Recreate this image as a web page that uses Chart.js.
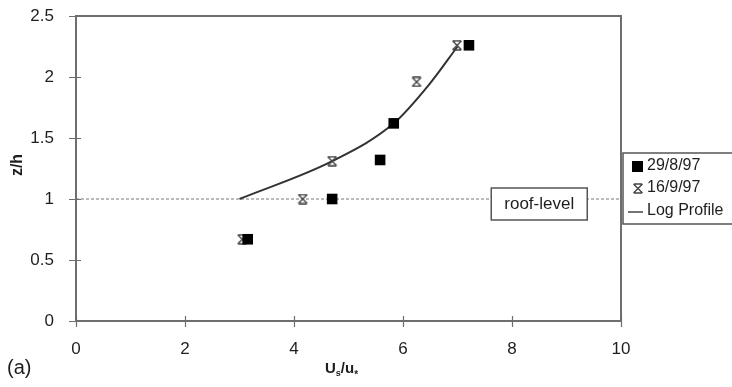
<!DOCTYPE html>
<html>
<head>
<meta charset="utf-8">
<script src="https://cdn.jsdelivr.net/npm/chart.js@4/dist/chart.umd.min.js"></script>
<style>
  html, body { margin: 0; padding: 0; background: #fff; }
  #wrap { width: 732px; height: 387px; }
</style>
</head>
<body>
<div id="wrap"><canvas id="profile-chart"></canvas></div>
<script>
// measured speed ratio Us/u* against z/h
const aug29X = [3.15, 4.7, 5.58, 5.83, 7.21];
const aug29Y = [0.67, 1.0, 1.32, 1.62, 2.26];
const sep16X = [3.05, 4.16, 4.7, 6.25, 6.99];
const sep16Y = [0.67, 1.0, 1.31, 1.96, 2.26];
const logX = [3.0, 4.7, 5.83, 6.5, 7.0];
const logY = [1.0, 1.31, 1.62, 1.95, 2.25];
const roofX = [0, 10];
const roofY = [1, 1];
const seriesLabels = ['29/8/97', '16/9/97', 'Log Profile'];
const xTicks = [0, 2, 4, 6, 8, 10];
const yTicks = [0, 0.5, 1, 1.5, 2, 2.5];

const FONT = '"Liberation Sans", Arial, sans-serif';
const AXIS = '#6e6e6e';
const INK = '#1e1e1e';

const pts = (xs, ys) => xs.map((x, i) => ({ x, y: ys[i] }));

// asterisk-like marker: an X closed by short bars top and bottom
function starMarker(w, h, color) {
  const c = document.createElement('canvas');
  c.width = w; c.height = h;
  const g = c.getContext('2d');
  g.strokeStyle = color;
  g.lineWidth = 1.4;
  g.beginPath();
  g.moveTo(1.5, 1); g.lineTo(w - 1.5, h - 1);
  g.moveTo(w - 1.5, 1); g.lineTo(1.5, h - 1);
  g.moveTo(2, 1); g.lineTo(w - 2, 1);
  g.moveTo(2, h - 1); g.lineTo(w - 2, h - 1);
  g.stroke();
  return c;
}
const star = starMarker(12, 11, '#444');

const decorations = {
  id: 'decorations',
  afterDraw(chart) {
    const { ctx, chartArea: a, scales: { x, y } } = chart;
    ctx.save();

    // top and right frame
    ctx.strokeStyle = AXIS;
    ctx.lineWidth = 2;
    ctx.beginPath();
    ctx.moveTo(a.left, a.top); ctx.lineTo(a.right, a.top); ctx.lineTo(a.right, a.bottom);
    ctx.stroke();

    // ticks crossing the axes
    ctx.lineWidth = 1.2;
    ctx.beginPath();
    yTicks.forEach(v => {
      const py = Math.round(y.getPixelForValue(v)) + 0.5;
      ctx.moveTo(a.left - 7, py); ctx.lineTo(a.left + 5, py);
    });
    xTicks.forEach(v => {
      const px = Math.round(x.getPixelForValue(v)) + 0.5;
      ctx.moveTo(px, a.bottom - 5); ctx.lineTo(px, a.bottom + 6);
    });
    ctx.stroke();

    // roof-level label box
    const bx = x.getPixelForValue(8.5), by = y.getPixelForValue(1);
    ctx.fillStyle = '#fff';
    ctx.fillRect(bx - 48, by - 11, 96, 32);
    ctx.strokeStyle = '#555';
    ctx.lineWidth = 1.5;
    ctx.strokeRect(bx - 48, by - 11, 96, 32);
    ctx.fillStyle = INK;
    ctx.font = '17px ' + FONT;
    ctx.textAlign = 'center';
    ctx.textBaseline = 'middle';
    ctx.fillText('roof-level', bx, by + 5);

    // legend
    const lx = a.right + 2, ly = 153;
    ctx.fillStyle = '#fff';
    ctx.fillRect(lx, ly, 120, 71);
    ctx.strokeStyle = '#555';
    ctx.lineWidth = 1.5;
    ctx.strokeRect(lx, ly, 120, 71);
    const rows = [166, 188, 211];
    ctx.fillStyle = '#000';
    ctx.fillRect(lx + 9, rows[0] - 5, 11, 11);
    ctx.drawImage(star, lx + 9, rows[1] - 5);
    ctx.strokeStyle = '#444';
    ctx.lineWidth = 1.5;
    ctx.beginPath();
    ctx.moveTo(lx + 5, rows[2] + 1); ctx.lineTo(lx + 20, rows[2] + 1);
    ctx.stroke();
    ctx.fillStyle = INK;
    ctx.font = '16px ' + FONT;
    ctx.textAlign = 'left';
    seriesLabels.forEach((t, i) => ctx.fillText(t, lx + 24, rows[i]));

    // axis titles
    ctx.save();
    ctx.translate(18, 165);
    ctx.rotate(-Math.PI / 2);
    ctx.font = 'bold 16px ' + FONT;
    ctx.textAlign = 'center';
    ctx.fillText('z/h', 0, 0);
    ctx.restore();

    let tx = 325;
    const ty = 369;
    const part = (t, f, dy) => {
      ctx.font = f;
      ctx.fillText(t, tx, ty + dy);
      tx += ctx.measureText(t).width;
    };
    part('U', 'bold 15px ' + FONT, 0);
    part('s', 'bold 9px ' + FONT, 5);
    part('/u', 'bold 15px ' + FONT, 0);
    part('*', 'bold 10px ' + FONT, 6);

    ctx.font = '20px ' + FONT;
    ctx.fillText('(a)', 7, 368);
    ctx.restore();
  }
};

new Chart(document.getElementById('profile-chart'), {
  type: 'scatter',
  data: {
    datasets: [
      {
        label: 'roof',
        data: pts(roofX, roofY),
        showLine: true,
        borderColor: '#777',
        borderWidth: 1,
        borderDash: [3, 2],
        pointRadius: 0,
        order: 4,
      },
      {
        label: seriesLabels[2],
        data: pts(logX, logY),
        showLine: true,
        cubicInterpolationMode: 'monotone',
        borderColor: '#333',
        borderWidth: 2,
        pointRadius: 0,
        order: 3,
      },
      {
        label: seriesLabels[1],
        data: pts(sep16X, sep16Y),
        pointStyle: star,
        order: 2,
      },
      {
        label: seriesLabels[0],
        data: pts(aug29X, aug29Y),
        pointStyle: 'rect',
        pointRadius: 7.5,
        backgroundColor: '#000',
        borderColor: '#000',
        borderWidth: 0,
        order: 1,
      },
    ],
  },
  options: {
    responsive: true,
    maintainAspectRatio: false,
    animation: false,
    layout: { padding: { top: 16, right: 111, left: 0, bottom: 0 } },
    plugins: { legend: { display: false }, tooltip: { enabled: false } },
    scales: {
      x: {
        type: 'linear',
        min: 0,
        max: 10,
        afterBuildTicks: s => { s.ticks = xTicks.map(v => ({ value: v })); },
        afterFit: s => { s.height = 66; s.paddingLeft = 0; s.paddingRight = 0; },
        grid: { display: false },
        border: { display: true, color: AXIS, width: 2 },
        ticks: {
          color: INK,
          padding: 10,
          callback: v => String(v),
          font: { family: FONT, size: 17 },
        },
      },
      y: {
        type: 'linear',
        min: 0,
        max: 2.5,
        afterBuildTicks: s => { s.ticks = yTicks.map(v => ({ value: v })); },
        afterFit: s => { s.width = 76; s.paddingTop = 0; s.paddingBottom = 0; },
        grid: { display: false },
        border: { display: true, color: AXIS, width: 2 },
        ticks: {
          color: INK,
          padding: 14,
          callback: v => String(v),
          font: { family: FONT, size: 17 },
        },
      },
    },
  },
  plugins: [decorations],
});
</script>
</body>
</html>
